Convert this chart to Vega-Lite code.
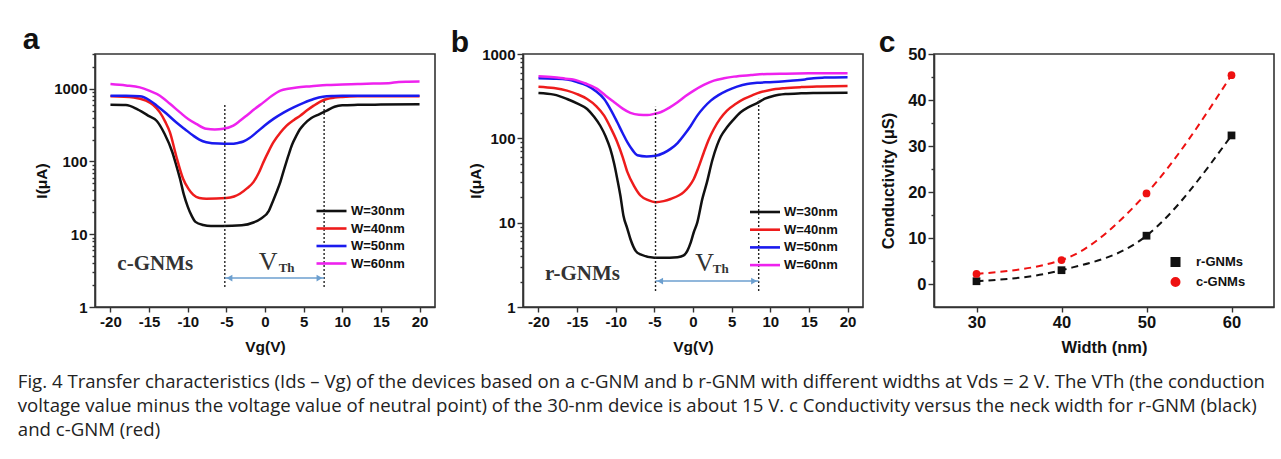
{
  "$schema": "https://vega.github.io/schema/vega-lite/v6.json",
  "background": "white",
  "padding": {"left": 17, "top": 24, "right": 4, "bottom": 2},
  "config": {
    "font": "Liberation Sans",
    "view": {"stroke": "#333", "strokeWidth": 1.6},
    "axis": {"grid": false, "domainColor": "#333", "domainWidth": 1.6, "tickColor": "#333", "tickWidth": 1.4, "labelFont": "Liberation Sans", "labelFontWeight": "bold", "labelFontSize": 15, "labelColor": "#111", "titleFont": "Liberation Sans", "titleFontWeight": "bold", "titleFontSize": 15.5, "titleColor": "#111", "labelFlush": false, "labelOverlap": false, "labelPadding": 2},
    "legend": {"title": null, "padding": 0, "labelFont": "Liberation Sans", "labelFontWeight": "bold", "labelFontSize": 13, "labelColor": "#111"}
  },
  "title": {
    "text": [
      "Fig. 4 Transfer characteristics (Ids – Vg) of the devices based on a c-GNM and b r-GNM with different widths at Vds = 2 V. The VTh (the conduction",
      "voltage value minus the voltage value of neutral point) of the 30-nm device is about 15 V. c Conductivity versus the neck width for r-GNM (black)",
      "and c-GNM (red)"
    ],
    "orient": "bottom", "anchor": "start", "frame": "bounds",
    "font": "Open Sans", "fontSize": 18.6, "fontWeight": "normal", "lineHeight": 24, "color": "#222", "offset": 16, "dx": -4
  },
  "datasets": {
    "a": [
      {"V":-20,"I":600,"W":"W=30nm"},{"V":-18,"I":595,"W":"W=30nm"},{"V":-16.5,"I":520,"W":"W=30nm"},{"V":-15,"I":420,"W":"W=30nm"},{"V":-14,"I":360,"W":"W=30nm"},{"V":-13,"I":240,"W":"W=30nm"},{"V":-12,"I":135,"W":"W=30nm"},{"V":-11.5,"I":90,"W":"W=30nm"},{"V":-11,"I":58,"W":"W=30nm"},{"V":-10.5,"I":35,"W":"W=30nm"},{"V":-10,"I":24,"W":"W=30nm"},{"V":-9.5,"I":18,"W":"W=30nm"},{"V":-9,"I":14.8,"W":"W=30nm"},{"V":-8,"I":13.4,"W":"W=30nm"},{"V":-7,"I":13,"W":"W=30nm"},{"V":-5.5,"I":13,"W":"W=30nm"},{"V":-3,"I":13.3,"W":"W=30nm"},{"V":-1.5,"I":14.5,"W":"W=30nm"},{"V":-0.5,"I":16.5,"W":"W=30nm"},{"V":0.5,"I":21,"W":"W=30nm"},{"V":1,"I":28,"W":"W=30nm"},{"V":1.5,"I":38,"W":"W=30nm"},{"V":2,"I":53,"W":"W=30nm"},{"V":2.5,"I":80,"W":"W=30nm"},{"V":3,"I":118,"W":"W=30nm"},{"V":3.5,"I":170,"W":"W=30nm"},{"V":4,"I":220,"W":"W=30nm"},{"V":4.5,"I":275,"W":"W=30nm"},{"V":5,"I":320,"W":"W=30nm"},{"V":6,"I":395,"W":"W=30nm"},{"V":7,"I":445,"W":"W=30nm"},{"V":8,"I":500,"W":"W=30nm"},{"V":9,"I":565,"W":"W=30nm"},{"V":10,"I":592,"W":"W=30nm"},{"V":12,"I":600,"W":"W=30nm"},{"V":15,"I":605,"W":"W=30nm"},{"V":20,"I":610,"W":"W=30nm"},
      {"V":-20,"I":790,"W":"W=40nm"},{"V":-17,"I":760,"W":"W=40nm"},{"V":-15.4,"I":685,"W":"W=40nm"},{"V":-14.5,"I":600,"W":"W=40nm"},{"V":-13.6,"I":473,"W":"W=40nm"},{"V":-12.9,"I":350,"W":"W=40nm"},{"V":-12.3,"I":251,"W":"W=40nm"},{"V":-11.5,"I":120,"W":"W=40nm"},{"V":-10.6,"I":58,"W":"W=40nm"},{"V":-9.9,"I":42,"W":"W=40nm"},{"V":-9.3,"I":35,"W":"W=40nm"},{"V":-8.5,"I":31.5,"W":"W=40nm"},{"V":-7.6,"I":30.8,"W":"W=40nm"},{"V":-5,"I":31.4,"W":"W=40nm"},{"V":-4,"I":33,"W":"W=40nm"},{"V":-3.25,"I":36,"W":"W=40nm"},{"V":-2.3,"I":43,"W":"W=40nm"},{"V":-1.5,"I":52,"W":"W=40nm"},{"V":-0.8,"I":70,"W":"W=40nm"},{"V":-0.2,"I":98,"W":"W=40nm"},{"V":0.5,"I":140,"W":"W=40nm"},{"V":1.1,"I":184,"W":"W=40nm"},{"V":2,"I":250,"W":"W=40nm"},{"V":2.8,"I":311,"W":"W=40nm"},{"V":3.7,"I":370,"W":"W=40nm"},{"V":4.55,"I":426,"W":"W=40nm"},{"V":5.4,"I":500,"W":"W=40nm"},{"V":6.3,"I":585,"W":"W=40nm"},{"V":7.1,"I":660,"W":"W=40nm"},{"V":8,"I":722,"W":"W=40nm"},{"V":9,"I":755,"W":"W=40nm"},{"V":10,"I":770,"W":"W=40nm"},{"V":12,"I":785,"W":"W=40nm"},{"V":15,"I":790,"W":"W=40nm"},{"V":20,"I":790,"W":"W=40nm"},
      {"V":-20,"I":802,"W":"W=50nm"},{"V":-18,"I":800,"W":"W=50nm"},{"V":-16.2,"I":785,"W":"W=50nm"},{"V":-15,"I":700,"W":"W=50nm"},{"V":-14,"I":585,"W":"W=50nm"},{"V":-12.8,"I":460,"W":"W=50nm"},{"V":-11.5,"I":346,"W":"W=50nm"},{"V":-10.4,"I":280,"W":"W=50nm"},{"V":-9.3,"I":227,"W":"W=50nm"},{"V":-8.5,"I":200,"W":"W=50nm"},{"V":-7.6,"I":184,"W":"W=50nm"},{"V":-6,"I":176,"W":"W=50nm"},{"V":-4.5,"I":175,"W":"W=50nm"},{"V":-3.5,"I":180,"W":"W=50nm"},{"V":-2.8,"I":188,"W":"W=50nm"},{"V":-2,"I":210,"W":"W=50nm"},{"V":-1.1,"I":251,"W":"W=50nm"},{"V":0,"I":315,"W":"W=50nm"},{"V":1.1,"I":385,"W":"W=50nm"},{"V":2.4,"I":470,"W":"W=50nm"},{"V":3.7,"I":554,"W":"W=50nm"},{"V":5,"I":640,"W":"W=50nm"},{"V":6.3,"I":722,"W":"W=50nm"},{"V":7.5,"I":775,"W":"W=50nm"},{"V":8.9,"I":794,"W":"W=50nm"},{"V":10,"I":800,"W":"W=50nm"},{"V":15,"I":800,"W":"W=50nm"},{"V":20,"I":802,"W":"W=50nm"},
      {"V":-20,"I":1160,"W":"W=60nm"},{"V":-18,"I":1110,"W":"W=60nm"},{"V":-16.2,"I":1042,"W":"W=60nm"},{"V":-15,"I":940,"W":"W=60nm"},{"V":-13.6,"I":802,"W":"W=60nm"},{"V":-12.3,"I":620,"W":"W=60nm"},{"V":-11,"I":473,"W":"W=60nm"},{"V":-9.9,"I":380,"W":"W=60nm"},{"V":-8.9,"I":328,"W":"W=60nm"},{"V":-7.6,"I":281,"W":"W=60nm"},{"V":-6.5,"I":275,"W":"W=60nm"},{"V":-5.4,"I":281,"W":"W=60nm"},{"V":-4.1,"I":311,"W":"W=60nm"},{"V":-3.2,"I":365,"W":"W=60nm"},{"V":-2.4,"I":426,"W":"W=60nm"},{"V":-1.3,"I":530,"W":"W=60nm"},{"V":-0.2,"I":649,"W":"W=60nm"},{"V":0.9,"I":800,"W":"W=60nm"},{"V":2,"I":939,"W":"W=60nm"},{"V":3,"I":1000,"W":"W=60nm"},{"V":4.1,"I":1042,"W":"W=60nm"},{"V":6,"I":1080,"W":"W=60nm"},{"V":8,"I":1123,"W":"W=60nm"},{"V":10,"I":1140,"W":"W=60nm"},{"V":12,"I":1160,"W":"W=60nm"},{"V":14,"I":1180,"W":"W=60nm"},{"V":16,"I":1190,"W":"W=60nm"},{"V":17.3,"I":1240,"W":"W=60nm"},{"V":18.5,"I":1250,"W":"W=60nm"},{"V":20,"I":1255,"W":"W=60nm"}
    ],
    "b": [
      {"V":-20,"I":345,"W":"W=30nm"},{"V":-18,"I":330,"W":"W=30nm"},{"V":-16.3,"I":293,"W":"W=30nm"},{"V":-15,"I":260,"W":"W=30nm"},{"V":-13.7,"I":223,"W":"W=30nm"},{"V":-12.8,"I":180,"W":"W=30nm"},{"V":-12,"I":141,"W":"W=30nm"},{"V":-11.3,"I":105,"W":"W=30nm"},{"V":-10.7,"I":75,"W":"W=30nm"},{"V":-10.2,"I":50,"W":"W=30nm"},{"V":-9.8,"I":33,"W":"W=30nm"},{"V":-9.4,"I":21,"W":"W=30nm"},{"V":-9,"I":12.1,"W":"W=30nm"},{"V":-8.5,"I":8.5,"W":"W=30nm"},{"V":-8.1,"I":6.4,"W":"W=30nm"},{"V":-7.4,"I":4.6,"W":"W=30nm"},{"V":-6.8,"I":4.2,"W":"W=30nm"},{"V":-5,"I":3.85,"W":"W=30nm"},{"V":-3,"I":3.85,"W":"W=30nm"},{"V":-2,"I":3.9,"W":"W=30nm"},{"V":-1.2,"I":4.1,"W":"W=30nm"},{"V":-0.75,"I":4.6,"W":"W=30nm"},{"V":-0.3,"I":5.8,"W":"W=30nm"},{"V":0.1,"I":7.7,"W":"W=30nm"},{"V":0.55,"I":10,"W":"W=30nm"},{"V":1.2,"I":19,"W":"W=30nm"},{"V":1.8,"I":30,"W":"W=30nm"},{"V":2.5,"I":55,"W":"W=30nm"},{"V":3.1,"I":82,"W":"W=30nm"},{"V":3.6,"I":105,"W":"W=30nm"},{"V":4.4,"I":135,"W":"W=30nm"},{"V":5.2,"I":165,"W":"W=30nm"},{"V":6.2,"I":205,"W":"W=30nm"},{"V":7.2,"I":235,"W":"W=30nm"},{"V":8.3,"I":262,"W":"W=30nm"},{"V":9.3,"I":295,"W":"W=30nm"},{"V":10.5,"I":320,"W":"W=30nm"},{"V":12,"I":335,"W":"W=30nm"},{"V":14,"I":342,"W":"W=30nm"},{"V":16,"I":345,"W":"W=30nm"},{"V":20,"I":348,"W":"W=30nm"},
      {"V":-20,"I":410,"W":"W=40nm"},{"V":-18,"I":395,"W":"W=40nm"},{"V":-16.3,"I":368,"W":"W=40nm"},{"V":-15,"I":335,"W":"W=40nm"},{"V":-13.7,"I":293,"W":"W=40nm"},{"V":-12.5,"I":240,"W":"W=40nm"},{"V":-11.5,"I":186,"W":"W=40nm"},{"V":-10.6,"I":130,"W":"W=40nm"},{"V":-9.8,"I":90,"W":"W=40nm"},{"V":-9.1,"I":60,"W":"W=40nm"},{"V":-8.5,"I":40,"W":"W=40nm"},{"V":-7.6,"I":27,"W":"W=40nm"},{"V":-6.8,"I":21,"W":"W=40nm"},{"V":-5.8,"I":18.5,"W":"W=40nm"},{"V":-4.85,"I":17.5,"W":"W=40nm"},{"V":-3.8,"I":18,"W":"W=40nm"},{"V":-2.9,"I":19.1,"W":"W=40nm"},{"V":-1.2,"I":23,"W":"W=40nm"},{"V":-0.5,"I":27,"W":"W=40nm"},{"V":0.1,"I":33,"W":"W=40nm"},{"V":0.7,"I":45,"W":"W=40nm"},{"V":1.4,"I":68,"W":"W=40nm"},{"V":2,"I":95,"W":"W=40nm"},{"V":2.7,"I":129,"W":"W=40nm"},{"V":3.5,"I":170,"W":"W=40nm"},{"V":4.4,"I":213,"W":"W=40nm"},{"V":5.5,"I":255,"W":"W=40nm"},{"V":6.6,"I":293,"W":"W=40nm"},{"V":7.7,"I":325,"W":"W=40nm"},{"V":8.7,"I":352,"W":"W=40nm"},{"V":10,"I":375,"W":"W=40nm"},{"V":11.8,"I":393,"W":"W=40nm"},{"V":14,"I":405,"W":"W=40nm"},{"V":16.5,"I":412,"W":"W=40nm"},{"V":20,"I":418,"W":"W=40nm"},
      {"V":-20,"I":516,"W":"W=50nm"},{"V":-18,"I":510,"W":"W=50nm"},{"V":-16.3,"I":497,"W":"W=50nm"},{"V":-15,"I":465,"W":"W=50nm"},{"V":-13.7,"I":422,"W":"W=50nm"},{"V":-12.6,"I":365,"W":"W=50nm"},{"V":-11.5,"I":293,"W":"W=50nm"},{"V":-10.6,"I":215,"W":"W=50nm"},{"V":-9.8,"I":155,"W":"W=50nm"},{"V":-9.1,"I":115,"W":"W=50nm"},{"V":-8.5,"I":90,"W":"W=50nm"},{"V":-7.8,"I":72,"W":"W=50nm"},{"V":-7.2,"I":63,"W":"W=50nm"},{"V":-6,"I":61,"W":"W=50nm"},{"V":-4.85,"I":62,"W":"W=50nm"},{"V":-3.8,"I":67,"W":"W=50nm"},{"V":-2.9,"I":75,"W":"W=50nm"},{"V":-2,"I":88,"W":"W=50nm"},{"V":-1.2,"I":108,"W":"W=50nm"},{"V":-0.3,"I":140,"W":"W=50nm"},{"V":0.55,"I":186,"W":"W=50nm"},{"V":1.4,"I":232,"W":"W=50nm"},{"V":2.3,"I":280,"W":"W=50nm"},{"V":3.3,"I":325,"W":"W=50nm"},{"V":4.4,"I":368,"W":"W=50nm"},{"V":5.7,"I":410,"W":"W=50nm"},{"V":7,"I":442,"W":"W=50nm"},{"V":8.3,"I":455,"W":"W=50nm"},{"V":9.6,"I":463,"W":"W=50nm"},{"V":11.5,"I":472,"W":"W=50nm"},{"V":13,"I":484,"W":"W=50nm"},{"V":14.5,"I":500,"W":"W=50nm"},{"V":15.6,"I":517,"W":"W=50nm"},{"V":17,"I":525,"W":"W=50nm"},{"V":20,"I":531,"W":"W=50nm"},
      {"V":-20,"I":546,"W":"W=60nm"},{"V":-18,"I":530,"W":"W=60nm"},{"V":-16.5,"I":510,"W":"W=60nm"},{"V":-15.4,"I":497,"W":"W=60nm"},{"V":-14,"I":450,"W":"W=60nm"},{"V":-12.4,"I":386,"W":"W=60nm"},{"V":-11.3,"I":320,"W":"W=60nm"},{"V":-10.2,"I":268,"W":"W=60nm"},{"V":-9.1,"I":225,"W":"W=60nm"},{"V":-8.1,"I":200,"W":"W=60nm"},{"V":-7,"I":190,"W":"W=60nm"},{"V":-5.9,"I":189,"W":"W=60nm"},{"V":-5,"I":195,"W":"W=60nm"},{"V":-4.2,"I":204,"W":"W=60nm"},{"V":-3.1,"I":230,"W":"W=60nm"},{"V":-2,"I":268,"W":"W=60nm"},{"V":-1,"I":315,"W":"W=60nm"},{"V":0.1,"I":368,"W":"W=60nm"},{"V":1.4,"I":430,"W":"W=60nm"},{"V":2.7,"I":484,"W":"W=60nm"},{"V":4,"I":515,"W":"W=60nm"},{"V":5.3,"I":539,"W":"W=60nm"},{"V":7.5,"I":562,"W":"W=60nm"},{"V":9.6,"I":580,"W":"W=60nm"},{"V":12,"I":585,"W":"W=60nm"},{"V":15,"I":590,"W":"W=60nm"},{"V":20,"I":592,"W":"W=60nm"}
    ],
    "c": [
      {"Width":30,"C":0.6,"S":"r-GNMs"},{"Width":40,"C":3.0,"S":"r-GNMs"},{"Width":50,"C":10.5,"S":"r-GNMs"},{"Width":60,"C":32.3,"S":"r-GNMs"},
      {"Width":30,"C":2.2,"S":"c-GNMs"},{"Width":40,"C":5.2,"S":"c-GNMs"},{"Width":50,"C":19.7,"S":"c-GNMs"},{"Width":60,"C":45.4,"S":"c-GNMs"}
    ],
    "vlinesA": [{"V":-5.2,"I":1.88,"I2":624},{"V":7.65,"I":1.88,"I2":730}],
    "arrowA": [{"V":-5.2,"V2":7.65,"I":2.5}],
    "headsA": [{"V":-4.6,"I":2.5,"dir":"L"},{"V":7.05,"I":2.5,"dir":"R"}],
    "labelA": [{"V":-14.2,"I":3.9,"t":"c-GNMs"}],
    "vA": [{"V":0.4,"I":4.1,"t":"V"}],
    "thA": [{"V":2.8,"I":3.4,"t":"Th"}],
    "vlinesB": [{"V":-4.85,"I":1.55,"I2":237},{"V":8.5,"I":1.55,"I2":295}],
    "arrowB": [{"V":-4.85,"V2":8.5,"I":2.03}],
    "headsB": [{"V":-4.25,"I":2.03,"dir":"L"},{"V":7.9,"I":2.03,"dir":"R"}],
    "labelB": [{"V":-14.3,"I":2.46,"t":"r-GNMs"}],
    "vB": [{"V":1.5,"I":3.3,"t":"V"}],
    "thB": [{"V":3.6,"I":2.85,"t":"Th"}]
  },
  "spacing": 13,
  "resolve": {"scale": {"color": "independent", "shape": "independent"}, "legend": {"color": "independent", "shape": "independent"}},
  "hconcat": [
    {
      "width": 340, "height": 253,
      "title": {"text": "a", "anchor": "start", "font": "Liberation Sans", "fontSize": 30, "fontWeight": "bold", "color": "#111", "dx": -12, "offset": -8},
      "layer": [
        {
          "data": {"name": "a"},
          "mark": {"type": "line", "strokeWidth": 2.5, "interpolate": "monotone"},
          "encoding": {
            "x": {"field": "V", "type": "quantitative", "title": "Vg(V)", "scale": {"domain": [-22, 22], "nice": false},
              "axis": {"values": [-20,-15,-10,-5,0,5,10,15,20], "tickSize": 5, "titlePadding": 10,
                "labelExpr": "datum.value < 0 ? '-' + format(-datum.value,'d') : format(datum.value,'d')"}},
            "y": {"field": "I", "type": "quantitative", "title": "I(μA)", "scale": {"type": "log", "domain": [1, 3000], "nice": false},
              "axis": {"values": [1,2,3,4,5,6,7,8,9,10,20,30,40,50,60,70,80,90,100,200,300,400,500,600,700,800,900,1000,2000,3000],
                "labelExpr": "(datum.value==1||datum.value==10||datum.value==100||datum.value==1000) ? format(datum.value,'d') : ''",
                "tickSize": {"condition": {"test": "datum.value==1||datum.value==10||datum.value==100||datum.value==1000", "value": 6}, "value": 3},
                "titlePadding": 4}},
            "color": {"field": "W", "type": "nominal", "scale": {"domain": ["W=30nm","W=40nm","W=50nm","W=60nm"], "range": ["#111111","#ee1c1c","#1a1aee","#ee22ee"]},
              "legend": {"orient": "none", "legendX": 230, "legendY": 150.5, "symbolType": "M-3,0H3", "symbolSize": 100, "symbolStrokeWidth": 2.6, "rowPadding": 3.5, "labelOffset": 13}}
          }
        },
        {
          "data": {"name": "vlinesA"},
          "mark": {"type": "rule", "strokeDash": [2, 2], "strokeWidth": 1.4, "color": "#222"},
          "encoding": {"x": {"field": "V", "type": "quantitative", "title": "Vg(V)"}, "y": {"field": "I", "type": "quantitative", "title": "I(μA)"}, "y2": {"field": "I2"}}
        },
        {
          "data": {"name": "arrowA"},
          "mark": {"type": "rule", "strokeWidth": 1.6, "color": "#6c9fcf"},
          "encoding": {"x": {"field": "V", "type": "quantitative", "title": "Vg(V)"}, "x2": {"field": "V2"}, "y": {"field": "I", "type": "quantitative", "title": "I(μA)"}}
        },
        {
          "data": {"name": "headsA"},
          "transform": [{"filter": "datum.dir == 'L'"}],
          "mark": {"type": "point", "shape": "triangle-left", "filled": true, "size": 45, "color": "#6c9fcf", "opacity": 1},
          "encoding": {"x": {"field": "V", "type": "quantitative", "title": "Vg(V)"}, "y": {"field": "I", "type": "quantitative", "title": "I(μA)"}}
        },
        {
          "data": {"name": "headsA"},
          "transform": [{"filter": "datum.dir == 'R'"}],
          "mark": {"type": "point", "shape": "triangle-right", "filled": true, "size": 45, "color": "#6c9fcf", "opacity": 1},
          "encoding": {"x": {"field": "V", "type": "quantitative", "title": "Vg(V)"}, "y": {"field": "I", "type": "quantitative", "title": "I(μA)"}}
        },
        {
          "data": {"name": "labelA"},
          "mark": {"type": "text", "font": "Liberation Serif", "fontSize": 21, "fontWeight": "bold", "color": "#333"},
          "encoding": {"x": {"field": "V", "type": "quantitative", "title": "Vg(V)"}, "y": {"field": "I", "type": "quantitative", "title": "I(μA)"}, "text": {"field": "t"}}
        },
        {
          "data": {"name": "vA"},
          "mark": {"type": "text", "font": "Liberation Serif", "fontSize": 26, "color": "#333"},
          "encoding": {"x": {"field": "V", "type": "quantitative", "title": "Vg(V)"}, "y": {"field": "I", "type": "quantitative", "title": "I(μA)"}, "text": {"field": "t"}}
        },
        {
          "data": {"name": "thA"},
          "mark": {"type": "text", "font": "Liberation Serif", "fontSize": 13, "fontWeight": "bold", "color": "#333"},
          "encoding": {"x": {"field": "V", "type": "quantitative", "title": "Vg(V)"}, "y": {"field": "I", "type": "quantitative", "title": "I(μA)"}, "text": {"field": "t"}}
        }
      ]
    },
    {
      "width": 340, "height": 253,
      "title": {"text": "b", "anchor": "start", "font": "Liberation Sans", "fontSize": 30, "fontWeight": "bold", "color": "#111", "dx": -18, "offset": -11},
      "layer": [
        {
          "data": {"name": "b"},
          "mark": {"type": "line", "strokeWidth": 2.5, "interpolate": "monotone"},
          "encoding": {
            "x": {"field": "V", "type": "quantitative", "title": "Vg(V)", "scale": {"domain": [-22, 22], "nice": false},
              "axis": {"values": [-20,-15,-10,-5,0,5,10,15,20], "tickSize": 5, "titlePadding": 10,
                "labelExpr": "datum.value < 0 ? '-' + format(-datum.value,'d') : format(datum.value,'d')"}},
            "y": {"field": "I", "type": "quantitative", "title": "I(μA)", "scale": {"type": "log", "domain": [1, 1000], "nice": false},
              "axis": {"values": [1,2,3,4,5,6,7,8,9,10,20,30,40,50,60,70,80,90,100,200,300,400,500,600,700,800,900,1000],
                "labelExpr": "(datum.value==1||datum.value==10||datum.value==100||datum.value==1000) ? format(datum.value,'d') : ''",
                "tickSize": {"condition": {"test": "datum.value==1||datum.value==10||datum.value==100||datum.value==1000", "value": 6}, "value": 3},
                "titlePadding": -2}},
            "color": {"field": "W", "type": "nominal", "scale": {"domain": ["W=30nm","W=40nm","W=50nm","W=60nm"], "range": ["#111111","#ee1c1c","#1a1aee","#ee22ee"]},
              "legend": {"orient": "none", "legendX": 235.5, "legendY": 151.5, "symbolType": "M-3,0H3", "symbolSize": 100, "symbolStrokeWidth": 2.6, "rowPadding": 3.7, "labelOffset": 12.5}}
          }
        },
        {
          "data": {"name": "vlinesB"},
          "mark": {"type": "rule", "strokeDash": [2, 2], "strokeWidth": 1.4, "color": "#222"},
          "encoding": {"x": {"field": "V", "type": "quantitative", "title": "Vg(V)"}, "y": {"field": "I", "type": "quantitative", "title": "I(μA)"}, "y2": {"field": "I2"}}
        },
        {
          "data": {"name": "arrowB"},
          "mark": {"type": "rule", "strokeWidth": 1.6, "color": "#6c9fcf"},
          "encoding": {"x": {"field": "V", "type": "quantitative", "title": "Vg(V)"}, "x2": {"field": "V2"}, "y": {"field": "I", "type": "quantitative", "title": "I(μA)"}}
        },
        {
          "data": {"name": "headsB"},
          "transform": [{"filter": "datum.dir == 'L'"}],
          "mark": {"type": "point", "shape": "triangle-left", "filled": true, "size": 45, "color": "#6c9fcf", "opacity": 1},
          "encoding": {"x": {"field": "V", "type": "quantitative", "title": "Vg(V)"}, "y": {"field": "I", "type": "quantitative", "title": "I(μA)"}}
        },
        {
          "data": {"name": "headsB"},
          "transform": [{"filter": "datum.dir == 'R'"}],
          "mark": {"type": "point", "shape": "triangle-right", "filled": true, "size": 45, "color": "#6c9fcf", "opacity": 1},
          "encoding": {"x": {"field": "V", "type": "quantitative", "title": "Vg(V)"}, "y": {"field": "I", "type": "quantitative", "title": "I(μA)"}}
        },
        {
          "data": {"name": "labelB"},
          "mark": {"type": "text", "font": "Liberation Serif", "fontSize": 21, "fontWeight": "bold", "color": "#333"},
          "encoding": {"x": {"field": "V", "type": "quantitative", "title": "Vg(V)"}, "y": {"field": "I", "type": "quantitative", "title": "I(μA)"}, "text": {"field": "t"}}
        },
        {
          "data": {"name": "vB"},
          "mark": {"type": "text", "font": "Liberation Serif", "fontSize": 26, "color": "#333"},
          "encoding": {"x": {"field": "V", "type": "quantitative", "title": "Vg(V)"}, "y": {"field": "I", "type": "quantitative", "title": "I(μA)"}, "text": {"field": "t"}}
        },
        {
          "data": {"name": "thB"},
          "mark": {"type": "text", "font": "Liberation Serif", "fontSize": 13, "fontWeight": "bold", "color": "#333"},
          "encoding": {"x": {"field": "V", "type": "quantitative", "title": "Vg(V)"}, "y": {"field": "I", "type": "quantitative", "title": "I(μA)"}, "text": {"field": "t"}}
        }
      ]
    },
    {
      "width": 340, "height": 253,
      "title": {"text": "c", "anchor": "start", "font": "Liberation Sans", "fontSize": 30, "fontWeight": "bold", "color": "#111", "dx": -2, "offset": -12},
      "data": {"name": "c"},
      "encoding": {
        "x": {"field": "Width", "type": "quantitative", "title": "Width (nm)", "scale": {"domain": [25, 65], "nice": false},
          "axis": {"values": [30,40,50,60], "tickSize": 5, "titlePadding": 9, "labelFontSize": 16.5, "titleFontSize": 16.5}},
        "y": {"field": "C", "type": "quantitative", "title": "Conductivity (μS)", "scale": {"domain": [-5, 50], "nice": false},
          "axis": {"values": [0,5,10,15,20,25,30,35,40,45,50], "labelFontSize": 16.5, "titleFontSize": 16.5,
            "labelExpr": "datum.value % 10 == 0 ? format(datum.value,'d') : ''",
            "tickSize": {"condition": {"test": "datum.value % 10 == 0", "value": 6}, "value": 3},
            "titlePadding": 11}},
        "color": {"field": "S", "type": "nominal", "scale": {"domain": ["r-GNMs","c-GNMs"], "range": ["#111111","#ee1111"]},
          "legend": {"orient": "none", "legendX": 235, "legendY": 201.5, "symbolSize": 64, "rowPadding": 3, "labelOffset": 14, "symbolStrokeWidth": 2, "symbolOpacity": 1,
            "encode": {"symbols": {"update": {
              "shape": {"signal": "datum.label == 'r-GNMs' ? 'M-3.4,0H-1.3M1.3,0H3.4M-0.9,-0.9H0.9V0.9H-0.9Z' : 'M-3.4,0H-1.4M1.4,0H3.4M1,0A1,1 0 1,1 -1,0A1,1 0 1,1 1,0Z'"},
              "stroke": {"signal": "datum.label == 'r-GNMs' ? '#111111' : '#ee1111'"},
              "fill": {"signal": "datum.label == 'r-GNMs' ? '#111111' : '#ee1111'"},
              "strokeWidth": {"value": 2},
              "strokeOpacity": {"value": 1},
              "fillOpacity": {"value": 1},
              "opacity": {"value": 1}
            }}}}}
      },
      "layer": [
        {
          "mark": {"type": "line", "strokeWidth": 2, "strokeDash": [7, 5], "interpolate": "monotone"}
        },
        {
          "mark": {"type": "point", "filled": true, "size": 60, "opacity": 1},
          "encoding": {
            "shape": {"field": "S", "type": "nominal", "scale": {"domain": ["r-GNMs","c-GNMs"], "range": ["square","circle"]}, "legend": null}
          }
        }
      ]
    }
  ]
}
